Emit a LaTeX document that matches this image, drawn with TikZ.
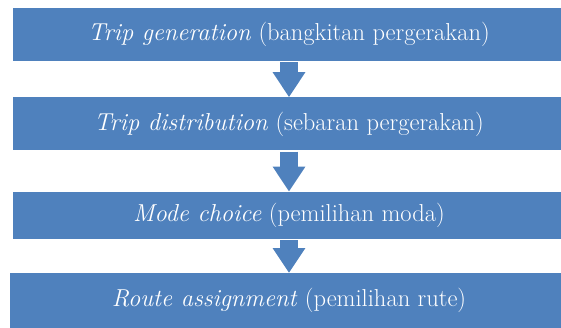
\documentclass[tikz,border=0pt]{standalone}
\usepackage{tikz}
\usetikzlibrary{arrows.meta,positioning}
\definecolor{stepblue}{RGB}{79,129,189}

\begin{document}
\begin{tikzpicture}[
    x=1pt, y=1pt,
    box/.style={fill=stepblue, text=white, inner sep=0pt, minimum width=552pt, minimum height=53pt, font=\fontsize{24.5}{29}\selectfont},
    arr/.style={draw=stepblue, line width=18pt, -{Triangle[length=25pt, width=31pt]}, shorten <=1pt}
  ]
    \useasboundingbox (0,0) rectangle (561,-327);

    \node[box] (gen) at (289,-34.5) {\textit{Trip generation} (bangkitan pergerakan)};
    \node[box, below=36pt of gen] (dist) {\textit{Trip distribution} (sebaran pergerakan)};
    \node[box, below=41pt of dist, minimum height=47pt] (mode) {\textit{Mode choice} (pemilihan moda)};
    \node[box, below=34pt of mode, minimum height=55pt, minimum width=558pt] (route) {\textit{Route assignment} (pemilihan rute)};

    \draw[arr] (gen) -- (dist);
    \draw[arr] (dist) -- (mode);
    \draw[arr] (mode) -- (route);
  \end{tikzpicture}
\end{document}
